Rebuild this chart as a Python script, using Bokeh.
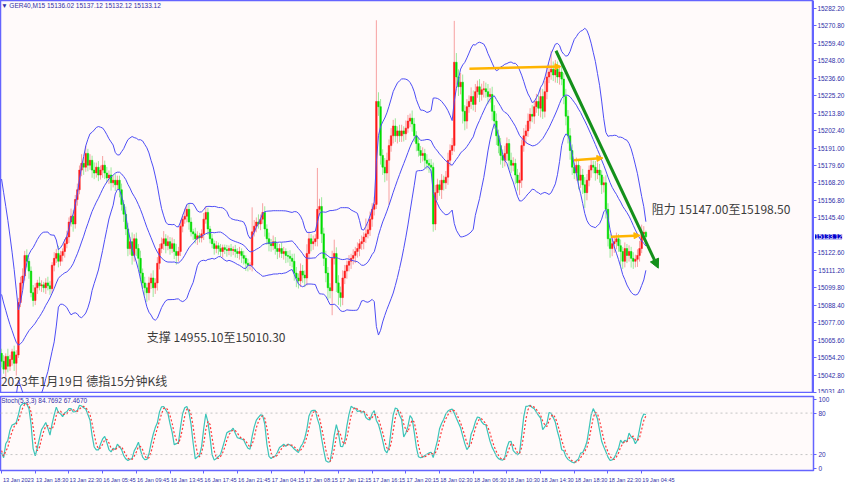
import numpy as np
from bokeh.plotting import figure
from bokeh.models import (Range1d, FixedTicker, Label, ColumnDataSource, Arrow,
                          NormalHead, Span, NumeralTickFormatter)
from bokeh.layouts import column, row
from bokeh.embed import file_html
from bokeh.resources import INLINE
from bokeh.core.properties import value

# ---------------- data ----------------
symbol_header = "\u25bc GER40,M15  15136.02 15137.12 15132.12 15133.12"
stoch_header = "Stoch(5,3,3) 84.7692 67.4670"
last_price_label = "15133.12"
last_price = 15133.12

# closes of the bars just left of the visible window (inferred from the band widths)
warmup_close = [15160, 15150, 15146, 15142, 15136, 15132, 15128, 15126, 15085, 15078,
                15072, 15070, 15066, 15064, 15060, 15066, 15058, 15062, 15057]

close = [
    15051.8, 15046.7, 15055.0, 15048.6, 15053.0, 15058.0, 15050.5, 15056.0, 15090.2, 15103.0,
    15107.5, 15120.9, 15117.1, 15110.7, 15096.6, 15091.5, 15099.8, 15103.0, 15101.1, 15101.7,
    15099.8, 15103.0, 15101.1, 15099.2, 15114.5, 15119.0, 15122.2, 15117.1, 15120.9, 15123.5,
    15128.6, 15133.0, 15142.7, 15146.5, 15141.4, 15157.4, 15163.8, 15176.6, 15181.0, 15178.5,
    15187.5, 15179.8, 15183.0, 15176.6, 15174.7, 15178.5, 15173.4, 15176.6, 15179.8, 15174.7,
    15171.5, 15173.4, 15168.3, 15170.0, 15167.0, 15170.0, 15163.8, 15154.2, 15147.8, 15138.2,
    15125.4, 15129.9, 15120.9, 15131.8, 15125.4, 15119.0, 15109.4, 15103.0, 15099.8, 15096.6,
    15103.0, 15106.2, 15099.8, 15103.0, 15115.8, 15125.4, 15128.6, 15131.8, 15127.3, 15129.9,
    15125.4, 15128.6, 15123.5, 15120.9, 15123.5, 15140.0, 15144.6, 15146.5, 15151.0, 15142.7,
    15136.3, 15135.0, 15131.8, 15133.7, 15132.4, 15135.0, 15144.6, 15149.0, 15138.2, 15131.8,
    15128.6, 15125.4, 15127.3, 15125.4, 15123.5, 15126.0, 15124.8, 15124.1, 15125.4, 15124.1,
    15124.8, 15123.5, 15122.2, 15123.5, 15120.9, 15119.0, 15115.8, 15114.5, 15114.5, 15136.3,
    15140.0, 15142.7, 15141.4, 15144.6, 15149.0, 15138.2, 15131.8, 15128.6, 15127.3, 15129.9,
    15125.4, 15123.5, 15125.4, 15122.2, 15123.5, 15120.9, 15120.3, 15119.0, 15117.1, 15109.4,
    15106.2, 15104.3, 15110.7, 15108.1, 15106.2, 15122.2, 15131.8, 15128.6, 15129.9, 15131.8,
    15151.0, 15152.9, 15135.0, 15119.0, 15109.4, 15099.8, 15097.9, 15119.0, 15122.2, 15103.0,
    15096.6, 15093.4, 15106.2, 15110.7, 15114.5, 15117.1, 15119.0, 15120.9, 15123.5, 15125.4,
    15128.6, 15129.9, 15133.0, 15135.0, 15137.6, 15144.6, 15151.0, 15154.2, 15221.4, 15218.0,
    15186.2, 15178.5, 15174.7, 15183.0, 15192.6, 15199.0, 15205.4, 15199.0, 15202.2, 15199.0,
    15202.2, 15200.3, 15204.0, 15208.6, 15210.5, 15206.7, 15199.0, 15193.9, 15189.4, 15186.2,
    15187.5, 15183.0, 15181.0, 15179.8, 15178.5, 15141.4, 15161.9, 15167.0, 15163.8, 15170.0,
    15168.3, 15172.0, 15183.0, 15189.4, 15192.6, 15247.0, 15237.4, 15231.0, 15234.0, 15215.0,
    15208.6, 15218.0, 15221.4, 15224.6, 15219.5, 15227.8, 15231.0, 15226.0, 15229.0, 15229.7,
    15227.8, 15224.6, 15226.0, 15215.0, 15208.6, 15199.0, 15192.6, 15186.2, 15183.0, 15187.5,
    15193.9, 15183.0, 15179.8, 15181.0, 15173.4, 15168.3, 15170.0, 15192.6, 15199.0, 15202.2,
    15208.6, 15213.0, 15211.8, 15218.0, 15221.4, 15217.0, 15224.6, 15215.0, 15227.8, 15237.4,
    15240.6, 15242.5, 15238.7, 15242.5, 15237.4, 15240.6, 15236.0, 15224.6, 15211.8, 15199.0,
    15189.4, 15178.5, 15174.7, 15179.8, 15170.0, 15173.4, 15167.0, 15161.9, 15170.0, 15176.6,
    15179.8, 15178.5, 15174.7, 15176.6, 15173.4, 15167.0, 15168.3, 15151.0, 15131.8, 15125.4,
    15128.6, 15129.9, 15131.8, 15127.3, 15123.5, 15117.1, 15125.4, 15120.9, 15123.5, 15119.0,
    15117.1, 15118.4, 15120.9, 15125.4, 15135.0, 15136.02, 15133.12,
]

# upper / lower shadow lengths (points) of each bar
up_wick = [
    3, 4, 2, 5, 3, 2, 4, 3, 3, 4,
    5, 3, 4, 2, 3, 5, 3, 2, 4, 3,
    2, 3, 4, 3, 2, 4, 3, 5, 3, 2,
    3, 4, 3, 5, 4, 3, 4, 3, 6, 4,
    5, 3, 4, 3, 5, 3, 4, 3, 6, 3,
    4, 3, 5, 3, 4, 3, 3, 4, 3, 5,
    4, 3, 6, 3, 4, 3, 5, 3, 4, 3,
    4, 3, 5, 3, 4, 3, 4, 5, 3, 4,
    3, 4, 3, 5, 3, 4, 3, 5, 3, 4,
    3, 2, 4, 3, 2, 3, 4, 4, 3, 2,
    3, 2, 3, 2, 3, 2, 2, 3, 2, 3,
    2, 3, 2, 3, 2, 3, 2, 3, 2, 16,
    4, 3, 5, 3, 6, 4, 3, 4, 3, 4,
    3, 4, 3, 4, 3, 2, 3, 4, 3, 5,
    4, 3, 5, 4, 3, 6, 4, 3, 4, 3,
    27, 5, 6, 4, 5, 4, 3, 5, 9, 4,
    5, 4, 5, 4, 3, 4, 3, 4, 3, 4,
    3, 4, 3, 10, 4, 5, 4, 5, 53, 6,
    5, 4, 6, 5, 4, 5, 4, 5, 3, 4,
    4, 3, 5, 4, 3, 5, 4, 3, 4, 3,
    4, 3, 4, 3, 4, 3, 5, 4, 3, 4,
    3, 4, 5, 4, 5, 27, 6, 5, 6, 5,
    4, 5, 4, 6, 4, 5, 4, 5, 4, 5,
    4, 5, 4, 5, 4, 5, 4, 5, 4, 5,
    4, 3, 5, 4, 3, 4, 5, 4, 5, 4,
    5, 4, 6, 4, 5, 4, 6, 5, 7, 6,
    5, 12, 5, 6, 5, 4, 5, 4, 5, 4,
    5, 4, 3, 5, 4, 6, 4, 5, 4, 3,
    4, 3, 4, 5, 4, 3, 4, 5, 4, 3,
    4, 3, 4, 3, 4, 3, 4, 3, 4, 3,
    4, 3, 4, 5, 6, 4, 1.1,
]
dn_wick = [
    4, 3, 5, 4, 3, 4, 5, 8, 2, 3,
    4, 3, 4, 5, 3, 4, 3, 4, 3, 4,
    3, 4, 3, 4, 3, 4, 3, 4, 3, 4,
    4, 3, 4, 3, 5, 3, 4, 3, 4, 5,
    3, 4, 3, 5, 4, 3, 4, 3, 5, 4,
    3, 4, 5, 3, 4, 3, 5, 4, 5, 4,
    5, 4, 6, 4, 5, 6, 5, 4, 5, 6,
    5, 4, 6, 4, 5, 4, 3, 4, 5, 3,
    4, 3, 5, 6, 4, 3, 4, 3, 4, 5,
    3, 4, 3, 4, 3, 3, 4, 3, 4, 3,
    3, 4, 3, 4, 3, 4, 3, 4, 3, 4,
    3, 4, 3, 4, 5, 4, 5, 4, 3, 4,
    3, 4, 3, 4, 3, 5, 4, 5, 4, 3,
    4, 5, 4, 3, 4, 5, 4, 5, 4, 5,
    6, 5, 4, 5, 6, 5, 4, 5, 4, 3,
    5, 4, 6, 5, 6, 8, 5, 16, 4, 6,
    8, 6, 5, 4, 5, 4, 5, 4, 5, 4,
    5, 4, 5, 4, 3, 4, 5, 4, 3, 6,
    6, 5, 6, 5, 29, 4, 5, 4, 5, 4,
    4, 5, 4, 3, 4, 5, 4, 5, 4, 5,
    4, 5, 4, 5, 4, 5, 4, 5, 4, 6,
    5, 4, 5, 4, 3, 4, 5, 6, 5, 8,
    6, 5, 4, 5, 4, 5, 4, 5, 4, 5,
    4, 5, 4, 6, 5, 6, 5, 6, 5, 4,
    5, 6, 5, 4, 6, 5, 8, 5, 4, 5,
    4, 5, 4, 5, 4, 5, 6, 5, 4, 5,
    4, 5, 4, 5, 4, 5, 4, 5, 6, 5,
    6, 5, 4, 5, 6, 5, 6, 10, 5, 4,
    5, 4, 5, 4, 5, 6, 5, 6, 5, 6,
    5, 6, 5, 4, 10, 5, 4, 5, 4, 6,
    5, 4, 5, 4, 3, 4, 1.0,
]

time_labels = ["13 Jan 2023", "13 Jan 18:30", "13 Jan 22:30", "16 Jan 05:45", "16 Jan 09:45",
               "16 Jan 13:45", "16 Jan 17:45", "16 Jan 21:45", "17 Jan 04:15", "17 Jan 08:15",
               "17 Jan 12:15", "17 Jan 16:15", "17 Jan 20:15", "18 Jan 02:30", "18 Jan 06:30",
               "18 Jan 10:30", "18 Jan 14:30", "18 Jan 18:30", "18 Jan 22:30", "19 Jan 04:45"]
bars_per_label = 16

# price-scale labels visible in the reference (15134.00 is hidden under the price tag)
price_ticks = [15031.40, 15042.80, 15054.20, 15065.60, 15077.00, 15088.40, 15099.80, 15111.20,
               15122.60, 15145.40, 15156.80, 15168.20, 15179.60, 15191.00, 15202.40,
               15213.80, 15225.20, 15236.60, 15248.00, 15259.40, 15270.80, 15282.20]
stoch_ticks = [0, 20, 80, 100]
stoch_levels = [20, 80]

# drawn objects (bar index, price)
orange_x0 = [222.2, 271.8, 289.4]
orange_y0 = [15242.7, 15183.0, 15133.1]
orange_x1 = [265.7, 285.6, 303.2]
orange_y1 = [15244.2, 15184.5, 15134.0]
trend_x = [263.3, 311.9]
trend_y = [15254.5, 15112.6]

note_text = ["2023年1月19日 德指15分钟K线", "支撑 14955.10至15010.30", "阻力 15147.00至15198.50"]
note_x = [-0.3, 69.0, 308.8]
note_y = [15039.5, 15067.8, 15151.6]

# ---------------- derived ----------------
N = len(close)
W = len(warmup_close)
idx = np.arange(N)
c = np.array(close, dtype=float)
o = np.array([warmup_close[-1]] + close[:-1], dtype=float)
hi = np.maximum(o, c) + np.array(up_wick, dtype=float)
lo = np.minimum(o, c) - np.array(dn_wick, dtype=float)

allc = np.concatenate([np.array(warmup_close, float), c])
allh = np.concatenate([np.array(warmup_close, float), hi])
alll = np.concatenate([np.array(warmup_close, float), lo])


def rolling(a, n, fn):
    out = np.full(len(a), np.nan)
    for i in range(n - 1, len(a)):
        out[i] = fn(a[i - n + 1:i + 1])
    return out


mid = rolling(allc, 20, np.mean)
sd = rolling(allc, 20, np.std)
bb_mid = mid[W:]
bb_up = (mid + 2 * sd)[W:]
bb_lo = (mid - 2 * sd)[W:]

hh = rolling(allh, 5, np.max)
ll = rolling(alll, 5, np.min)
num = rolling(allc - ll, 3, np.sum)
den = rolling(hh - ll, 3, np.sum)
k = 100 * num / den
d = rolling(k, 3, np.mean)
st_k = k[W:]
st_d = d[W:]

up = c >= o
src = ColumnDataSource(dict(x=idx, top=np.maximum(o, c), bot=np.minimum(o, c), hi=hi, lo=lo,
                            body=np.where(up, "#ff1a1a", "#00dd00"),
                            wick=np.where(up, "#f7a1a1", "#9be89b")))

# ---------------- figures ----------------
BLUE = "#6464ff"
LBL = "#2f2fa8"
RIGHT = 36
FRAME_W = 849 - RIGHT
MAIN_H = 393
xr = Range1d(-0.5, 385.6)
yr = Range1d(15030.8, 15287.3)


def style_axis(ax, size="6.5px"):
    ax.axis_line_color = BLUE
    ax.major_tick_line_color = BLUE
    ax.minor_tick_line_color = None
    ax.major_tick_in = 0
    ax.major_tick_out = 3
    ax.major_label_standoff = 2
    ax.major_label_text_font = "Liberation Sans"
    ax.major_label_text_font_size = size
    ax.major_label_text_color = LBL


p = figure(width=FRAME_W, height=MAIN_H, x_range=xr, y_range=yr,
           x_axis_location=None, y_axis_location=None, toolbar_location=None,
           output_backend="svg", min_border_left=0, min_border_right=0,
           min_border_top=0, min_border_bottom=0)
p.grid.visible = False
p.background_fill_color = "#fffafa"
p.border_fill_color = "white"
p.outline_line_color = BLUE
p.outline_line_width = 1.5

# price scale: a narrow figure to the right sharing the price range; its axis
# labels are pushed into its own frame so that the price tag can sit beside them
pax = figure(width=RIGHT, height=MAIN_H, x_range=Range1d(0, 1), y_range=yr,
             x_axis_location=None, y_axis_location="left", toolbar_location=None,
             output_backend="svg", min_border_left=0, min_border_right=0,
             min_border_top=0, min_border_bottom=0)
pax.grid.visible = False
pax.outline_line_color = None
pax.background_fill_color = "white"
pax.border_fill_color = "white"
ya = pax.yaxis[0]
ya.ticker = FixedTicker(ticks=price_ticks)
ya.formatter = NumeralTickFormatter(format="0.00")
style_axis(ya)
ya.major_tick_out = 0
ya.major_tick_in = 3
ya.major_label_standoff = -31
pax.add_layout(Label(x=1.5, x_units="screen", y=last_price, y_units="data",
                     text=last_price_label, text_font="Liberation Sans",
                     text_font_size="6.5px", text_color="white", text_baseline="middle",
                     background_fill_color="#0000cd", level="overlay"))

# candles
p.segment(x0="x", y0="lo", x1="x", y1="hi", color="wick", line_width=1, source=src)
p.vbar(x="x", top="top", bottom="bot", width=0.75, fill_color="body", line_color="body",
       line_width=0.5, source=src)

# Bollinger bands
for band in (bb_up, bb_mid, bb_lo):
    p.line(idx, band, line_color="#4d4df5", line_width=1)

# drawn arrows
osrc = ColumnDataSource(dict(x0=orange_x0, y0=orange_y0, x1=orange_x1, y1=orange_y1))
p.add_layout(Arrow(x_start="x0", y_start="y0", x_end="x1", y_end="y1", source=osrc,
                   line_color="#ffb400", line_width=2.5,
                   end=NormalHead(size=6, fill_color="#ffb400", line_color="#ffb400")))
p.add_layout(Arrow(x_start=trend_x[0], y_start=trend_y[0], x_end=trend_x[1], y_end=trend_y[1],
                   line_color="#14901a", line_width=3,
                   end=NormalHead(size=9, fill_color="#14901a", line_color="#14901a")))

# notes
nsrc = ColumnDataSource(dict(x=note_x, y=note_y, t=note_text))
p.text(x="x", y="y", text="t", source=nsrc, text_font=value("Noto Sans CJK SC"),
       text_font_size="12px", text_color="#3c3c3c", text_baseline="middle", text_align="left")

p.add_layout(Label(x=-0.2, y=15286.5, text=symbol_header, text_font="Liberation Sans",
                   text_font_size="6.5px", text_color=LBL, text_baseline="top"))

# stochastic panel
s = figure(width=849, height=92, x_range=xr, y_range=Range1d(-3, 104),
           y_axis_location="right", toolbar_location=None, output_backend="svg",
           min_border_left=0, min_border_right=RIGHT, min_border_top=3, min_border_bottom=0)
s.grid.visible = False
s.background_fill_color = "#fffafa"
s.border_fill_color = "white"
s.outline_line_color = BLUE
s.outline_line_width = 1.5
s.yaxis.ticker = FixedTicker(ticks=stoch_ticks)
style_axis(s.yaxis[0])

tick_pos = [bars_per_label * i for i in range(len(time_labels))]
# labels sit to the right of their tick marks (minor ticks carry the marks)
label_shift = 8
xa = s.xaxis[0]
xa.ticker = FixedTicker(ticks=[t + label_shift for t in tick_pos], minor_ticks=tick_pos)
xa.major_label_overrides = {t + label_shift: lab for t, lab in zip(tick_pos, time_labels)}
style_axis(xa, size="5.6px")
xa.major_tick_line_color = None
xa.major_tick_out = 0
xa.minor_tick_line_color = BLUE
xa.minor_tick_in = 0
xa.minor_tick_out = 3
xa.major_label_standoff = 3

for lev in stoch_levels:
    s.add_layout(Span(location=lev, dimension="width", line_color="#c4c4c4",
                      line_dash="2 3", line_width=1))
s.line(idx, st_k, line_color="#3cc4b8", line_width=1.2)
s.line(idx, st_d, line_color="#ff3a3a", line_width=1.2, line_dash="2 2")
s.add_layout(Label(x=-0.2, y=103, text=stoch_header, text_font="Liberation Sans",
                   text_font_size="6.5px", text_color=LBL, text_baseline="top"))

layout = column(row(p, pax, spacing=0), s, spacing=0)
open("out.html", "w").write(file_html(layout, INLINE))
